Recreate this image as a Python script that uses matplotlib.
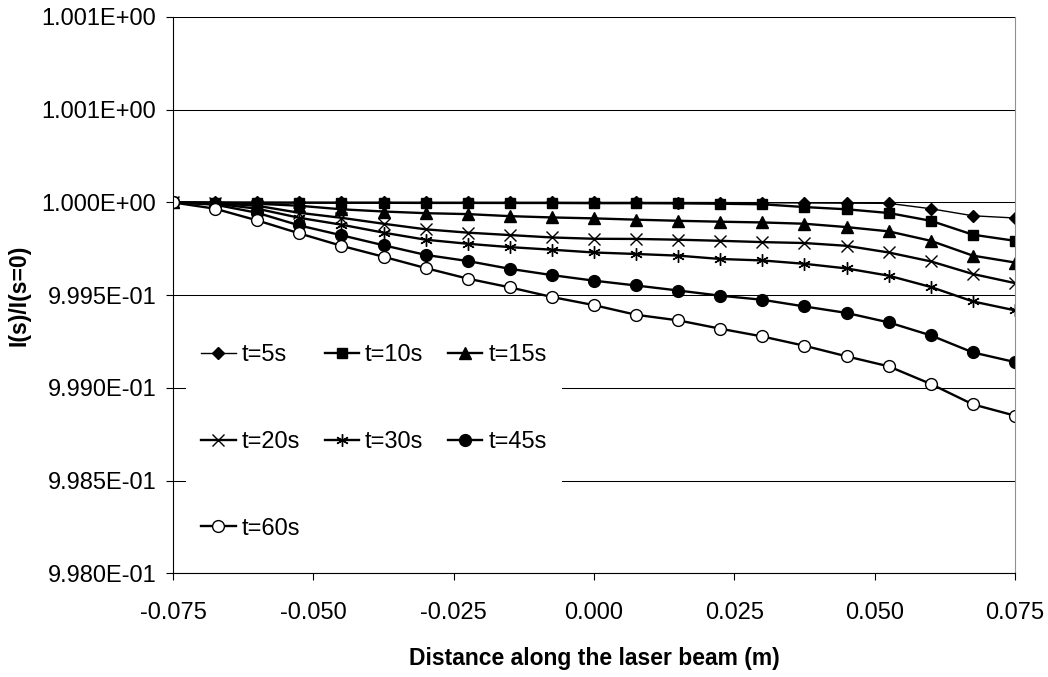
import numpy as np
import matplotlib
matplotlib.use("Agg")
import matplotlib.pyplot as plt

plt.rcParams['font.family'] = ['Liberation Sans', 'DejaVu Sans']
plt.rcParams['axes.unicode_minus'] = False

# distance along the beam (m)
dist = [-0.075, -0.0675, -0.06, -0.0525, -0.045, -0.0375, -0.03, -0.0225, -0.015, -0.0075,
        0.0, 0.0075, 0.015, 0.0225, 0.03, 0.0375, 0.045, 0.0525, 0.06, 0.0675, 0.075]

# I(s)/I(s=0)
t5 = [1.0, 1.0, 1.0, 1.0, 1.0, 1.0, 1.0, 1.0, 1.0, 1.0, 1.0, 1.0,
      0.9999995, 0.999999, 0.9999985, 0.999997, 0.999996, 0.999995, 0.999966, 0.999928, 0.999916]
t10 = [1.0, 0.9999995, 0.999999, 0.9999984, 0.999998, 0.999998, 0.9999973, 0.9999973, 0.999997, 0.999997,
       0.999996, 0.999996, 0.999995, 0.999993, 0.99999, 0.999975, 0.999963, 0.999943, 0.999901, 0.999826, 0.999793]
t15 = [1.0, 0.999998, 0.999993, 0.999982, 0.999963, 0.999951, 0.999942, 0.999937, 0.999926, 0.999919,
       0.999914, 0.999907, 0.999901, 0.999896, 0.999892, 0.999885, 0.999867, 0.999844, 0.999793, 0.999713, 0.999676]
t20 = [1.0, 0.999996, 0.999982, 0.999944, 0.999917, 0.999885, 0.999855, 0.999837, 0.999824, 0.999811,
       0.999804, 0.999803, 0.999799, 0.999793, 0.999786, 0.999781, 0.999766, 0.99973, 0.999682, 0.999614, 0.999565]
t30 = [1.0, 0.999993, 0.999966, 0.999917, 0.99988, 0.999837, 0.999799, 0.999777, 0.999759, 0.999745,
       0.99973, 0.999722, 0.999713, 0.999695, 0.999687, 0.999669, 0.999644, 0.999605, 0.999544, 0.999466, 0.999418]
t45 = [1.0, 0.999988, 0.999944, 0.999876, 0.999823, 0.999769, 0.999717, 0.999684, 0.999642, 0.999608,
       0.999578, 0.999552, 0.999525, 0.999497, 0.999475, 0.999439, 0.999404, 0.999353, 0.999283, 0.999191, 0.999139]
t60 = [1.0, 0.999966, 0.999903, 0.999833, 0.999766, 0.999707, 0.999646, 0.999589, 0.999542, 0.99949,
       0.999446, 0.999394, 0.999364, 0.999319, 0.999277, 0.999227, 0.99917, 0.999116, 0.999021, 0.998911, 0.99885]

labels = ["t=5s", "t=10s", "t=15s", "t=20s", "t=30s", "t=45s", "t=60s"]
yticks = [0.998, 0.9985, 0.999, 0.9995, 1.0, 1.0005, 1.001]
ytick_labels = ["9.980E-01", "9.985E-01", "9.990E-01", "9.995E-01", "1.000E+00", "1.001E+00", "1.001E+00"]
xticks = [-0.075, -0.05, -0.025, 0.0, 0.025, 0.05, 0.075]

fig = plt.figure(figsize=(10.48, 6.77), dpi=100)
ax = fig.add_axes([0.1651, 0.1532, 0.8034, 0.8217])

ax.plot(dist, t5, "k-", lw=1.0, marker="D", ms=6.5, label=labels[0])
ax.plot(dist, t10, "k-", lw=1.7, marker="s", ms=7.5, label=labels[1])
ax.plot(dist, t15, "k-", lw=1.7, marker="^", ms=8, label=labels[2])
ax.plot(dist, t20, "k-", lw=1.7, marker="x", ms=8, mew=1.0, label=labels[3])
ax.plot(dist, t30, "k-", lw=1.7, marker=(6, 2, 0), ms=9, mew=1.0, label=labels[4])
ax.plot(dist, t45, "k-", lw=1.7, marker="o", ms=8.5, label=labels[5])
ax.plot(dist, t60, "k-", lw=1.7, marker="o", ms=8.5, mfc="white", mec="black", mew=1.0, label=labels[6])

ax.set_xlim(-0.075, 0.075)
ax.set_ylim(0.998, 1.001)
ax.set_yticks(yticks)
ax.set_yticklabels(ytick_labels)
ax.set_xticks(xticks)
ax.set_xticklabels(["%.3f" % v for v in xticks])
ax.tick_params(labelsize=17, direction="out", length=5, width=0.8, pad=7)
ax.tick_params(axis="x", pad=16)
ax.grid(axis="y", color="black", lw=0.75)
ax.set_axisbelow(True)

ax.spines["top"].set_visible(False)
ax.spines["right"].set_color("#909090")
for s in ["left", "bottom"]:
    ax.spines[s].set_linewidth(0.8)

ax.set_xlabel("Distance along the laser beam (m)", fontsize=16.5, fontweight="bold", labelpad=16)
ax.set_ylabel("I(s)/I(s=0)", fontsize=16.5, fontweight="bold", labelpad=8)

# legend is laid out row by row in the reference
handles, labs = ax.get_legend_handles_labels()
order = [0, 3, 6, 1, 4, 2, 5]
leg = ax.legend([handles[i] for i in order], [labs[i] for i in order],
                ncol=3, loc="upper left", bbox_to_anchor=(0.0154, 0.44), fontsize=17,
                frameon=True, facecolor="white", edgecolor="none", framealpha=1, fancybox=False,
                handlelength=1.45, handletextpad=0.25, columnspacing=1.05, labelspacing=2.75,
                borderpad=0.65, borderaxespad=0)

fig.savefig("out.png", dpi=100)
